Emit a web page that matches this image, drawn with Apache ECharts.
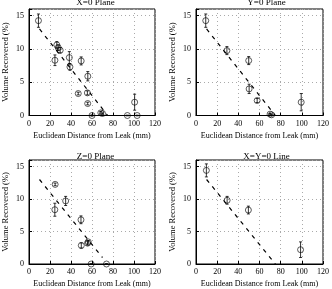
<!DOCTYPE html>
<html>
<head>
<meta charset="utf-8">
<script src="https://cdn.jsdelivr.net/npm/echarts@6/dist/echarts.min.js"></script>
<style>
  html, body { margin: 0; padding: 0; background: #fff; }
  #chart { width: 332px; height: 289px; }
</style>
</head>
<body>
<div id="chart"></div>
<script>
// panel titles
const titles = ["X=0 Plane", "Y=0 Plane", "Z=0 Plane", "X=Y=0 Line"];

// X=0 plane
const xPlaneX = [9, 24.7, 26.5, 27.8, 29.7, 38.4, 39, 49.7, 46.9, 56, 55.6, 55.9, 60, 68.4, 70, 93.7, 100.6, 103];
const xPlaneY = [14.25, 8.3, 10.6, 10.2, 9.8, 8.7, 7.3, 8.2, 3.3, 5.9, 3.4, 1.8, 0, 0.4, 0.3, 0, 2, 0];
const xPlaneErr = [1.0, 0.8, 0.5, 0.4, 0.4, 0.9, 0.5, 0.6, 0.2, 0.7, 0.3, 0.2, 0.1, 0.2, 0.1, 0.05, 1.2, 0.05];

// Y=0 plane
const yPlaneX = [9.2, 29.2, 49.8, 50.2, 57.8, 70, 71.4, 99.4];
const yPlaneY = [14.25, 9.75, 8.25, 4, 2.25, 0.2, 0.1, 2];
const yPlaneErr = [1.0, 0.6, 0.6, 0.7, 0.3, 0.1, 0.1, 1.3];

// Z=0 plane
const zPlaneX = [24.9, 24.6, 34.9, 49.5, 49.8, 55.8, 56.4, 59.2, 73.8];
const zPlaneY = [12.25, 8.35, 9.7, 6.8, 2.85, 3.2, 3.4, 0, 0];
const zPlaneErr = [0.2, 1.0, 0.7, 0.6, 0.4, 0.3, 0.2, 0.05, 0.05];

// X=Y=0 line
const xyLineX = [9.8, 29.4, 49.5, 98.8];
const xyLineY = [14.4, 9.8, 8.3, 2.2];
const xyLineErr = [1.0, 0.6, 0.6, 1.2];

// fitted dashed trend (start/end x per panel)
const fitStart = [10, 10, 10, 10];
const fitEnd = [75, 75, 70, 75];
const fitIntercept = 15;
const fitSlope = -0.2;

const xTicks = [0, 20, 40, 60, 80, 100, 120];
const yTicks = [0, 5, 10, 15];

const panels = [
  [xPlaneX, xPlaneY, xPlaneErr],
  [yPlaneX, yPlaneY, yPlaneErr],
  [zPlaneX, zPlaneY, zPlaneErr],
  [xyLineX, xyLineY, xyLineErr]
];

const font = "Liberation Serif";
const grids = [
  { left: 26, top: 9, width: 129, height: 106.5 },
  { left: 196, top: 9, width: 131, height: 106.5 },
  { left: 26, top: 160, width: 129, height: 106 },
  { left: 196, top: 160, width: 131, height: 106.5 }
];

const option = {
  animation: false,
  backgroundColor: "#fff",
  textStyle: { fontFamily: font, color: "#000" },
  title: titles.map((t, i) => ({
    text: t,
    left: grids[i].left + grids[i].width / 2,
    top: i < 2 ? -7 : 147,
    textAlign: "center",
    textStyle: { fontFamily: font, fontSize: 9, fontWeight: "normal", color: "#000" }
  })),
  grid: grids.map(g => Object.assign({ show: true, borderColor: "#000", borderWidth: 1, backgroundColor: "transparent" }, g)),
  xAxis: grids.map((g, i) => ({
    gridIndex: i,
    type: "value",
    min: xTicks[0],
    max: xTicks[xTicks.length - 1],
    interval: 20,
    name: "Euclidean Distance from Leak (mm)",
    nameLocation: "middle",
    nameGap: 16,
    nameTextStyle: { fontFamily: font, fontSize: 8, color: "#000" },
    axisLine: { lineStyle: { color: "#000" } },
    axisTick: { inside: true, length: 3, lineStyle: { color: "#000" } },
    axisLabel: { fontFamily: font, fontSize: 8, color: "#000", margin: 4 },
    splitLine: { show: true, lineStyle: { color: "#aaa", type: [1, 3] } }
  })),
  yAxis: grids.map((g, i) => ({
    gridIndex: i,
    type: "value",
    min: 0,
    max: 16,
    interval: 5,
    name: "Volume Recovered (%)",
    nameLocation: "middle",
    nameGap: 19,
    nameTextStyle: { fontFamily: font, fontSize: 8.5, color: "#000" },
    axisLine: { lineStyle: { color: "#000" } },
    axisTick: { inside: true, length: 3, lineStyle: { color: "#000" } },
    axisLabel: {
      fontFamily: font, fontSize: 8, color: "#000", margin: 5,
      formatter: v => (yTicks.indexOf(v) >= 0 ? String(v) : "")
    },
    splitLine: { show: true, lineStyle: { color: "#aaa", type: [1, 3] } }
  })),
  series: []
};

panels.forEach((p, i) => {
  const [xs, ys, errs] = p;
  // dashed fit
  option.series.push({
    type: "line",
    xAxisIndex: i, yAxisIndex: i,
    data: [[fitStart[i], fitIntercept + fitSlope * fitStart[i]], [fitEnd[i], fitIntercept + fitSlope * fitEnd[i]]],
    symbol: "none",
    lineStyle: { color: "#000", width: 1.2, type: [4, 5] },
    z: 1
  });
  // error bars
  option.series.push({
    type: "custom",
    xAxisIndex: i, yAxisIndex: i,
    data: xs.map((x, k) => [x, ys[k] - errs[k], ys[k] + errs[k]]),
    renderItem: (params, api) => {
      const lo = api.coord([api.value(0), api.value(1)]);
      const hi = api.coord([api.value(0), api.value(2)]);
      const w = 1.5;
      return {
        type: "group",
        children: [
          { type: "line", shape: { x1: lo[0], y1: lo[1], x2: hi[0], y2: hi[1] }, style: { stroke: "#000", lineWidth: 0.8 } },
          { type: "line", shape: { x1: lo[0] - w, y1: lo[1], x2: lo[0] + w, y2: lo[1] }, style: { stroke: "#000", lineWidth: 0.8 } },
          { type: "line", shape: { x1: hi[0] - w, y1: hi[1], x2: hi[0] + w, y2: hi[1] }, style: { stroke: "#000", lineWidth: 0.8 } }
        ]
      };
    },
    z: 2
  });
  // markers
  option.series.push({
    type: "scatter",
    xAxisIndex: i, yAxisIndex: i,
    data: xs.map((x, k) => [x, ys[k]]),
    symbol: "circle",
    symbolSize: 6,
    itemStyle: { color: "transparent", borderColor: "#000", borderWidth: 0.8 },
    z: 3
  });
});

const chart = echarts.init(document.getElementById("chart"), null, { renderer: "canvas" });
chart.setOption(option);
</script>
</body>
</html>
